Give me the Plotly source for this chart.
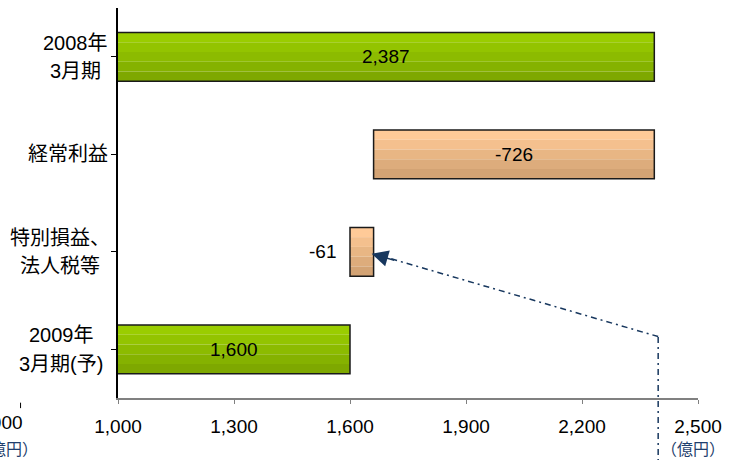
import plotly.graph_objects as go

# Waterfall of net income (億円): FY2008 result -> items -> FY2009 forecast
categories = ["2008年3月期", "経常利益", "特別損益、法人税等", "2009年3月期(予)"]
label_lines = [["2008年", "3月期"], ["経常利益"], ["特別損益、", "法人税等"], ["2009年", "3月期(予)"]]
values = [2387, -726, -61, 1600]
is_total = [True, False, False, True]
x_ticks = [1000, 1300, 1600, 1900, 2200, 2500]
x_min, x_max = 1000, 2500

# Work out each bar's start and end along the axis
bases, lengths = [], []
running = 0
for v, tot in zip(values, is_total):
    if tot:
        bases.append(0)
        lengths.append(v)
        running = v
    else:
        bases.append(running + v)
        lengths.append(-v)
        running += v

green_bands = ["#9ACD00", "#93C400", "#8CBB00", "#85B200", "#7EA800"]
orange_bands = ["#FFCA98", "#F4C08E", "#E8B684", "#DDAC7C", "#D3A374"]

fig = go.Figure()
n_bands = 5
bar_w = 0.5
for k in range(n_bands):
    cols = [green_bands[k] if t else orange_bands[k] for t in is_total]
    fig.add_trace(go.Bar(
        y=list(range(len(categories))), x=lengths, base=bases, orientation="h",
        width=bar_w / n_bands, offset=-bar_w / 2 + k * bar_w / n_bands,
        marker=dict(color=cols, line=dict(width=0)),
        hoverinfo="skip", showlegend=False,
    ))
# outline
fig.add_trace(go.Bar(
    y=list(range(len(categories))), x=lengths, base=bases, orientation="h",
    width=bar_w, marker=dict(color="rgba(0,0,0,0)", line=dict(color="#1a1a1a", width=1.5)),
    showlegend=False,
    customdata=categories, hovertemplate="%{customdata}: %{x}<extra></extra>",
))

num_font = dict(family="Liberation Sans, Arial, sans-serif", size=19, color="#000000")
jp_font = dict(family="Liberation Sans, Noto Sans CJK JP, sans-serif", size=20, color="#000000")

# value labels
for i, (v, b, l) in enumerate(zip(values, bases, lengths)):
    lo = max(b, x_min)
    hi = min(b + l, x_max)
    txt = f"{v:,}"
    if hi - lo > 100:
        fig.add_annotation(x=(lo + hi) / 2, y=i, text=txt, showarrow=False,
                           font=num_font, xanchor="center", yanchor="middle")
    else:
        fig.add_annotation(x=lo, y=i, text=txt, showarrow=False, font=num_font,
                           xanchor="right", yanchor="middle", xshift=-12)

# category labels (each line placed separately for wider line spacing)
label_centers = [75, 68, 60, 61]
for i, lines in enumerate(label_lines):
    n = len(lines)
    for j, line in enumerate(lines):
        fig.add_annotation(
            xref="paper", x=0, xshift=label_centers[i] - 118, y=i,
            yshift=(((n - 1) / 2) - j) * 28.5,
            text=line, showarrow=False, font=jp_font,
            xanchor="center", yanchor="middle",
        )

unit_color = "#1F3F6E"
unit_font = dict(family="Noto Sans CJK JP", size=16, color=unit_color)
fig.add_annotation(xref="paper", yref="paper", x=1, xshift=-5, y=-0.127,
                   text="（億円）", showarrow=False, font=unit_font,
                   xanchor="center", yanchor="middle")
# partially visible labels at the left edge
fig.add_annotation(xref="paper", yref="paper", x=0, xshift=-93, y=-0.064,
                   text="1,000", showarrow=False, font=num_font,
                   xanchor="right", yanchor="middle")
fig.add_annotation(xref="paper", yref="paper", x=0, xshift=-78, y=-0.127,
                   text="（億円）", showarrow=False, font=unit_font,
                   xanchor="right", yanchor="middle")
fig.add_shape(type="line", xref="paper", yref="paper", x0=-0.168, x1=-0.168,
              y0=-0.012, y1=-0.026, line=dict(color="#000", width=1))

# dash-dot pointer from the right edge to the small item
line_style = dict(color="#17375E", width=1.5, dash="6px,4px,2px,4px")
px_x, px_y_start, tip_y = 2397, 2.87, 2.02
tip_x = bases[2] + lengths[2] - 5
fig.add_shape(type="line", xref="x", yref="y", x0=px_x, y0=px_y_start,
              x1=tip_x + 40, y1=tip_y + 0.04, line=line_style)
fig.add_shape(type="line", xref="x", yref="paper", x0=px_x, x1=px_x,
              y0=(398 - 337) / 390, y1=-0.2, line=line_style)
fig.add_annotation(x=tip_x, y=tip_y, ax=24, ay=7, axref="pixel", ayref="pixel",
                   text="", showarrow=True, arrowhead=2, arrowsize=2.2,
                   arrowwidth=1.5, arrowcolor="#17375E")

fig.update_layout(
    width=739, height=460,
    margin=dict(l=118, r=41, t=8, b=62),
    paper_bgcolor="white", plot_bgcolor="white",
    barmode="overlay",
    showlegend=False,
    xaxis=dict(range=[x_min, x_max], tickvals=x_ticks, tickformat=",",
               showgrid=False, zeroline=False,
               showline=True, linecolor="#808080", linewidth=2,
               ticks="outside", ticklen=4, tickcolor="#808080",
               ticklabelstandoff=6, tickfont=num_font),
    yaxis=dict(range=[3.5, -0.5], tickvals=list(range(len(categories))),
               showticklabels=False, showgrid=False, zeroline=False,
               showline=True, linecolor="#000000", linewidth=1.5,
               ticks="outside", ticklen=5, tickcolor="#000000",
               tickson="boundaries", type="linear"),
)

fig.write_html("out.html")
